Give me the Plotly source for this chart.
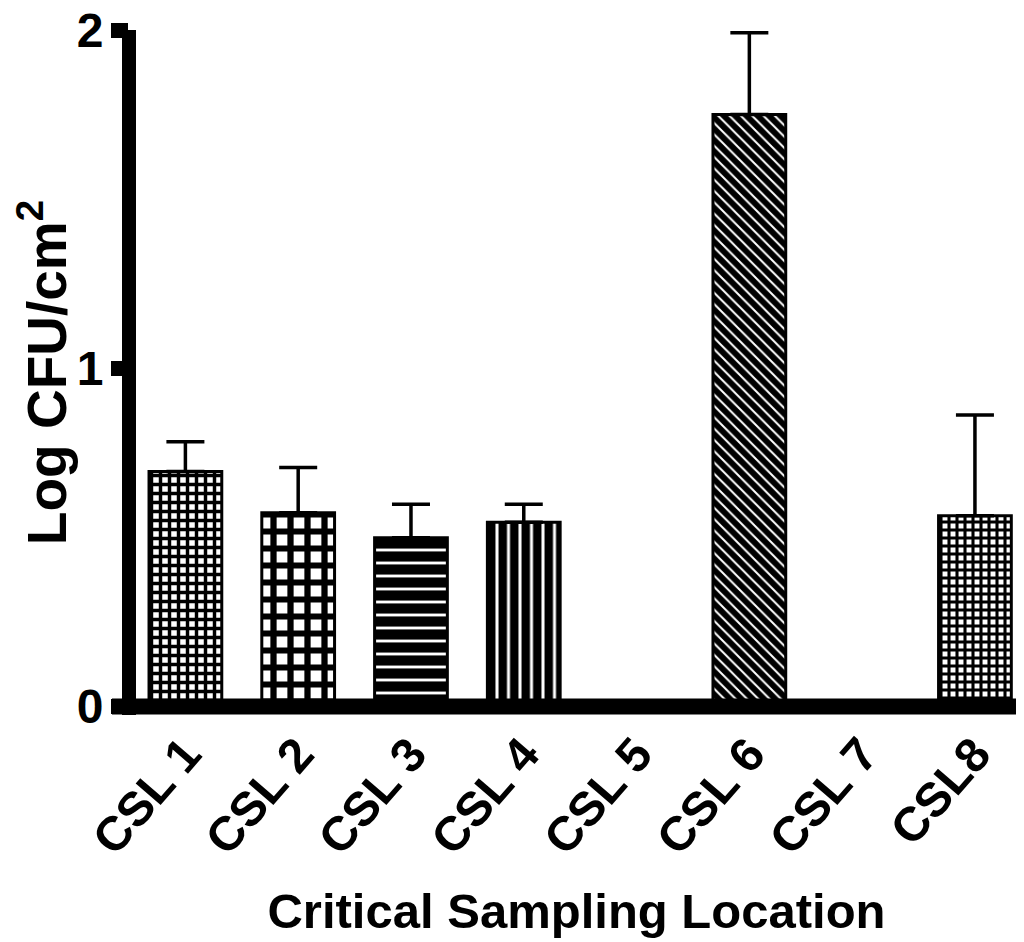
import plotly.graph_objects as go

# ---- data ----
categories = ["CSL 1", "CSL 2", "CSL 3", "CSL 4", "CSL 5", "CSL 6", "CSL 7", "CSL8"]
means = [0.695, 0.573, 0.499, 0.545, 0.0, 1.750, 0.0, 0.564]
errors = [0.088, 0.134, 0.099, 0.053, 0.0, 0.242, 0.0, 0.298]
y_ticks = [0, 1, 2]
y_tick_labels = ["0", "1", "2"]

# ---- bar fill patterns (style) ----
pat_shape = ["+", "+", "-", "|", "", "\\", "", "+"]
pat_size = [9, 17, 13, 11.5, 8, 8, 8, 8]
pat_solid = [0.62, 0.6, 0.78, 0.74, 0.5, 0.75, 0.5, 0.62]

FONT = "Liberation Sans, Arial, sans-serif"

fig = go.Figure()
fig.add_trace(go.Bar(
    x=categories,
    y=means,
    width=0.645,
    marker=dict(
        color="white",
        line=dict(color="black", width=3),
        pattern=dict(
            shape=pat_shape,
            size=pat_size,
            solidity=pat_solid,
            fgcolor="black",
            bgcolor="white",
            fillmode="replace",
        ),
    ),
    error_y=dict(
        type="data",
        symmetric=False,
        array=errors,
        arrayminus=[0] * len(errors),
        color="black",
        thickness=3.5,
        width=19,
    ),
    showlegend=False,
))

# thick axis lines (placed at data zero / plot left edge through the library's scales)
fig.add_shape(type="line", xref="paper", yref="y", x0=0, x1=0, y0=-0.025, y1=2,
              line=dict(color="black", width=14), layer="above")
fig.add_shape(type="line", xref="paper", yref="y", x0=-0.019, x1=1.01, y0=0, y1=0,
              line=dict(color="black", width=16), layer="above")

fig.update_layout(
    width=1024,
    height=942,
    margin=dict(l=121, r=8, t=22, b=235, autoexpand=False),
    paper_bgcolor="white",
    plot_bgcolor="white",
    xaxis=dict(
        range=[-0.5, 7.435],
        automargin=False,
        showline=False,
        showgrid=False,
        zeroline=False,
        ticks="",
        tickangle=-49,
        ticklabelstandoff=0,
        ticklabeloverflow="allow",
        tickfont=dict(family=FONT, size=48, color="black", weight="bold"),
        title=dict(
            text="Critical Sampling Location",
            font=dict(family=FONT, size=49, color="black", weight="bold"),
            standoff=30,
        ),
    ),
    yaxis=dict(
        range=[-0.025, 2],
        automargin=False,
        tickvals=y_ticks,
        ticktext=y_tick_labels,
        showline=False,
        showgrid=False,
        zeroline=False,
        ticks="outside",
        ticklen=17,
        tickwidth=15,
        tickcolor="black",
        ticklabelstandoff=-2,
        ticklabeloverflow="allow",
        tickfont=dict(family=FONT, size=48, color="black", weight="bold"),
        title=dict(
            text="Log CFU/cm<sup>2</sup>",
            font=dict(family=FONT, size=55, color="black", weight="bold"),
            standoff=4,
        ),
    ),
)

fig.write_html("out.html")
